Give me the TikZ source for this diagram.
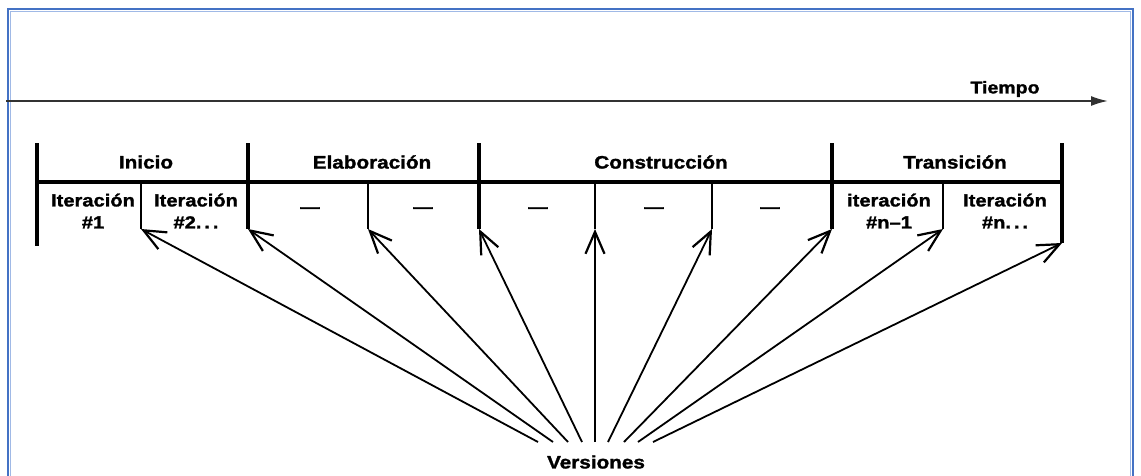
\documentclass[tikz,border=0pt]{standalone}
\usepackage{fontspec}
\setmainfont{Liberation Sans}[FakeStretch=1.15, BoldFeatures={FakeBold=1.5}]
\usetikzlibrary{arrows.meta}
\definecolor{frameblue}{RGB}{68,114,196}
\definecolor{framelight}{RGB}{160,185,230}
\definecolor{axisgray}{RGB}{50,50,50}
\begin{document}
\begin{tikzpicture}[x=1pt,y=-1pt,
  lbl/.style={font=\fontsize{18}{20}\selectfont\bfseries, inner sep=0pt, align=center},
  itlbl/.style={font=\fontsize{17.5}{22}\selectfont\bfseries, inner sep=0pt, align=center},
  tlbl/.style={font=\fontsize{17}{19}\selectfont\bfseries, inner sep=0pt},
  dashlbl/.style={font=\fontsize{17}{19}\selectfont\bfseries, inner sep=0pt},
  maindiv/.style={line width=3.2pt, black},
  innerdiv/.style={line width=2pt, black},
  baseline/.style={line width=4.5pt, black},
  verarrow/.style={line width=1.8pt, black, -{Straight Barb[length=22pt,width=19pt,line width=2.2pt]}},
  timeaxis/.style={line width=1.8pt, axisgray, -{Latex[length=17pt,width=10pt]}}
]
\useasboundingbox (0,0) rectangle (1141,475);
% frame
\draw[framelight, line width=1pt] (10.5,476) -- (10.5,11.5) -- (1130.5,11.5) -- (1130.5,476);
\draw[frameblue, line width=2pt] (8,476) -- (8,9) -- (1133,9) -- (1133,476);

% time axis
\coordinate (t0) at (6,101);
\coordinate (t1) at (1108,101);
\draw[timeaxis] (t0) -- (t1);
\node[tlbl] (tiempo) at (1005,89) {Tiempo};

% phase structure
\coordinate (h0) at (37,182);
\coordinate (h1) at (1062,182);
\draw[baseline] (h0) -- (h1);

\coordinate (d0t) at (37,143);  \coordinate (d0b) at (37,246);
\coordinate (d1t) at (248,143); \coordinate (d1b) at (248,229);
\coordinate (d2t) at (479,143); \coordinate (d2b) at (479,229);
\coordinate (d3t) at (832,143); \coordinate (d3b) at (832,229);
\coordinate (d4t) at (1062,143);\coordinate (d4b) at (1062,243);
\foreach \d in {d0,d1,d2,d3,d4} \draw[maindiv] (\d t) -- (\d b);

\coordinate (i1t) at (141,182); \coordinate (i1b) at (141,229);
\coordinate (i2t) at (368,182); \coordinate (i2b) at (368,229);
\coordinate (i3t) at (595,182); \coordinate (i3b) at (595,229);
\coordinate (i4t) at (712,182); \coordinate (i4b) at (712,229);
\coordinate (i5t) at (943,182); \coordinate (i5b) at (943,229);
\foreach \d in {i1,i2,i3,i4,i5} \draw[innerdiv] (\d t) -- (\d b);

% phase labels
\node[lbl] (inicio) at (146,162) {Inicio};
\node[lbl] (elab) at (372,162) {Elaboración};
\node[lbl] (constr) at (661,162) {Construcción};
\node[lbl] (trans) at (955,162) {Transición};

% iteration labels
\node[itlbl] (it1) at (93,211) {Iteración\\\#1};
\node[itlbl] (it2) at (196,211) {Iteración\\\#2.\,.\,.};
\node[dashlbl] (ds1) at (310,210) {—};
\node[dashlbl] (ds2) at (423,210) {—};
\node[dashlbl] (ds3) at (538,210) {—};
\node[dashlbl] (ds4) at (654,210) {—};
\node[dashlbl] (ds5) at (770,210) {—};
\node[itlbl] (itn1) at (889,211) {iteración\\\#n–1};
\node[itlbl] (itn) at (1005,211) {Iteración\\\#n.\,.\,.};

% versiones
\node[lbl] (ver) at (596,462) {Versiones};
\coordinate (v1) at (538,442);
\coordinate (v2) at (553,442);
\coordinate (v3) at (568,442);
\coordinate (v4) at (582,442);
\coordinate (v5) at (595,442);
\coordinate (v6) at (608,442);
\coordinate (v7) at (624,442);
\coordinate (v8) at (638,442);
\coordinate (v9) at (653,442);
\draw[verarrow] (v1) -- (i1b);
\draw[verarrow] (v2) -- (d1b);
\draw[verarrow] (v3) -- (i2b);
\draw[verarrow] (v4) -- (d2b);
\draw[verarrow] (v5) -- (i3b);
\draw[verarrow] (v6) -- (i4b);
\draw[verarrow] (v7) -- (d3b);
\draw[verarrow] (v8) -- (i5b);
\draw[verarrow] (v9) -- (d4b);
\end{tikzpicture}
\end{document}
